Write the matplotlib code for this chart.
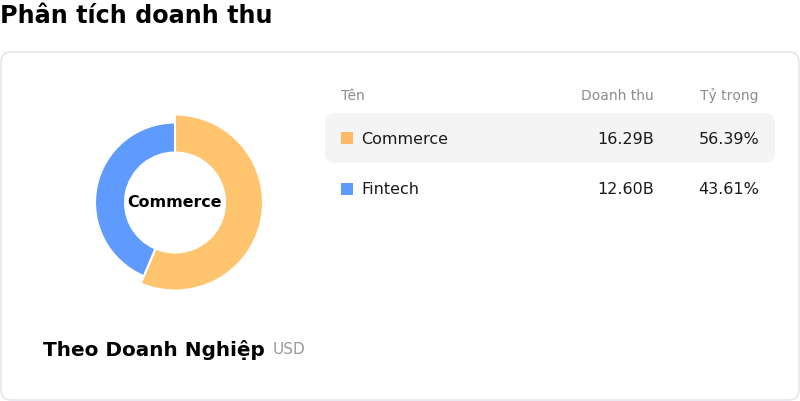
import matplotlib.pyplot as plt
from matplotlib.patches import FancyBboxPatch, Rectangle

# data
segments = ["Commerce", "Fintech"]
revenue_b = [16.29, 12.60]
share_pct = [56.39, 43.61]
seg_colors = ["#FFC46E", "#5F9BFF"]
marker_colors = ["#FDB868", "#5F9BFF"]

TITLE = "Phân tích doanh thu"
SUBTITLE = "Theo Doanh Nghiệp"
UNIT = "USD"
HEADERS = ["Tên", "Doanh thu", "Tỷ trọng"]

W, H = 800, 402
plt.rcParams["font.family"] = ["DejaVu Sans"]

fig = plt.figure(figsize=(W / 100, H / 100), dpi=100)
ax = fig.add_axes([0, 0, 1, 1])
ax.set_xlim(0, W)
ax.set_ylim(0, H)
ax.set_aspect("equal")
ax.axis("off")

def Y(py):
    return H - py

# card
card = FancyBboxPatch((1, Y(401)), 798, 348, boxstyle="round,pad=0,rounding_size=10",
                      fc="white", ec="#E2E0EA", lw=1)
ax.add_patch(card)

ax.text(0, Y(16), TITLE, fontsize=17.2, fontweight="bold", color="black",
        ha="left", va="center")

# donut
cx, cy = 175, Y(203.5)
wedges, _ = ax.pie(revenue_b, colors=seg_colors, startangle=90, counterclock=False,
                   center=(cx, cy), radius=80,
                   wedgeprops=dict(width=30, edgecolor="white", linewidth=1.5))
# hovered segment pops out
wedges[0].set_radius(88)
wedges[0].set_width(38)
ax.set_xlim(0, W)
ax.set_ylim(0, H)
ax.text(cx, Y(202.5), segments[0], fontsize=11.4, fontweight="bold", color="black",
        ha="center", va="center")

ax.text(43, Y(350), SUBTITLE, fontsize=14.4, fontweight="bold", color="black",
        ha="left", va="center")
ax.text(273, Y(350), UNIT, fontsize=11, color="#999999", ha="left", va="center")

# table
col_x = [341, 654, 759]
ax.text(col_x[0], Y(96), HEADERS[0], fontsize=10, color="#8C8C8C", ha="left", va="center")
ax.text(col_x[1], Y(96), HEADERS[1], fontsize=10, color="#8C8C8C", ha="right", va="center")
ax.text(col_x[2], Y(96), HEADERS[2], fontsize=10, color="#8C8C8C", ha="right", va="center")

hl = FancyBboxPatch((325, Y(164)), 450, 50, boxstyle="round,pad=0,rounding_size=10",
                    fc="#F4F4F4", ec="none")
ax.add_patch(hl)

row_y = [139, 190]
for i, name in enumerate(segments):
    yy = Y(row_y[i])
    ax.add_patch(Rectangle((341, yy - 6), 12, 12, fc=marker_colors[i], ec="none"))
    ax.text(361, yy, name, fontsize=11.5, color="#1A1A1A", ha="left", va="center")
    ax.text(col_x[1], yy, f"{revenue_b[i]:.2f}B", fontsize=11.5, color="#1A1A1A",
            ha="right", va="center")
    ax.text(col_x[2], yy, f"{share_pct[i]:.2f}%", fontsize=11.5, color="#1A1A1A",
            ha="right", va="center")

fig.savefig("out.png", dpi=100, facecolor="white")
